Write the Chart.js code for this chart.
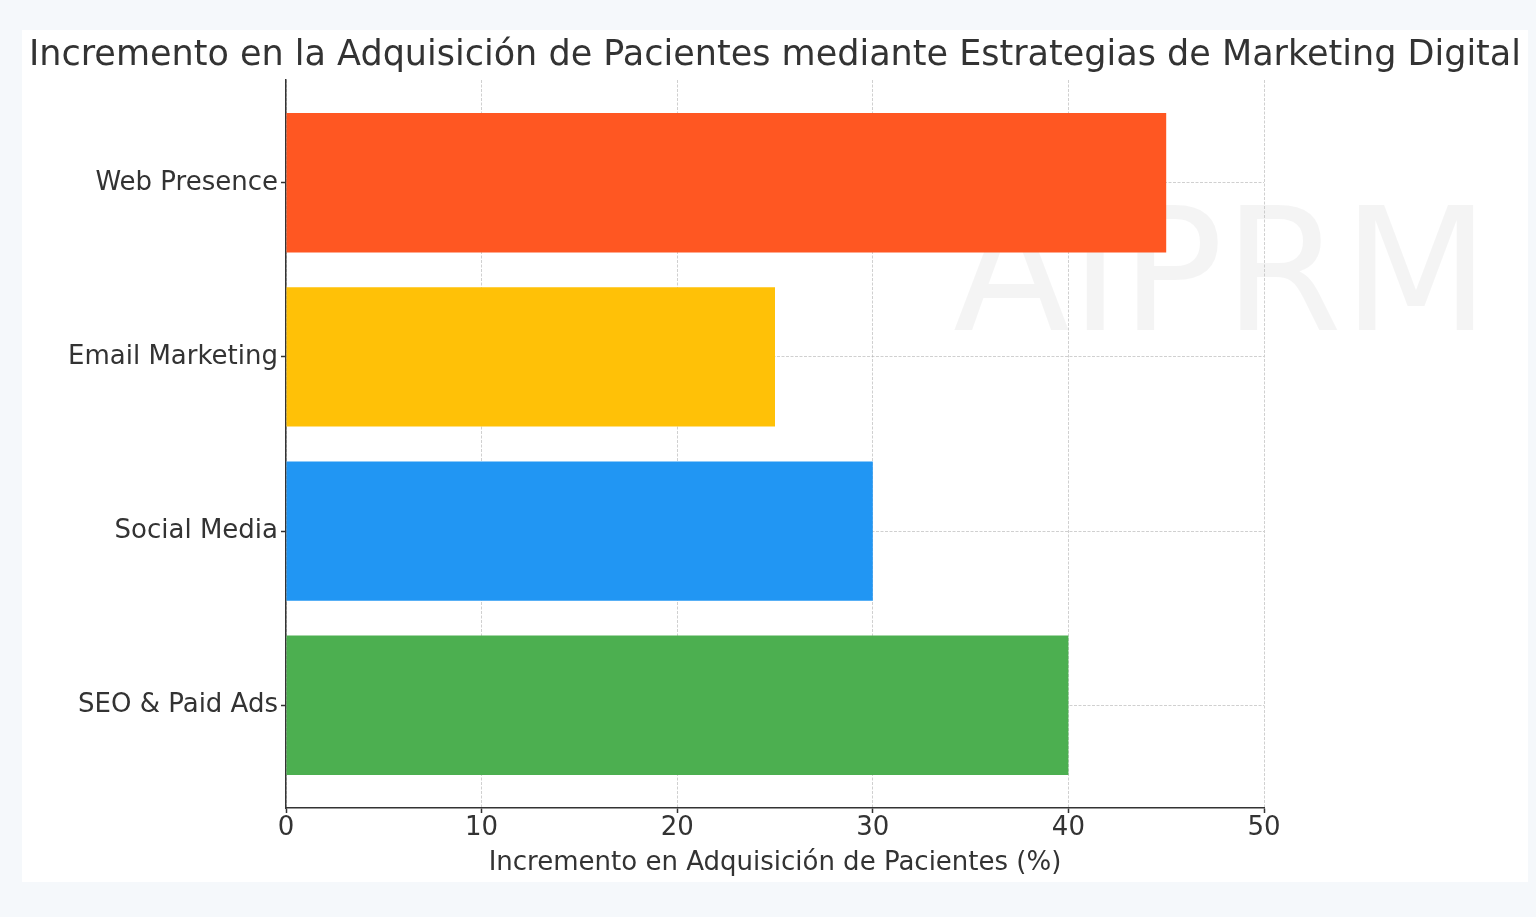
<!DOCTYPE html>
<html>
<head>
<meta charset="utf-8">
<script src="https://cdn.jsdelivr.net/npm/chart.js@4"></script>
<style>
  html, body { margin: 0; padding: 0; }
  body { background: #f5f8fb; width: 1536px; height: 917px; overflow: hidden; font-family: "DejaVu Sans", sans-serif; }
  #panel { position: absolute; left: 22px; top: 30px; width: 1506px; height: 852px; background: #fff; }
  #mark { position: absolute; left: 931px; top: 155px; font-size: 171px; line-height: 1; color: rgba(0,0,0,0.045); font-family: "DejaVu Sans"; }
  #chartBox { position: absolute; left: 0; top: 0; width: 1506px; height: 852px; }
</style>
</head>
<body>
<div id="panel">
  <div id="mark">AIPRM</div>
  <div id="chartBox"><canvas id="adqChart"></canvas></div>
</div>
<script>
const categories = ['Web Presence', 'Email Marketing', 'Social Media', 'SEO & Paid Ads'];
const increments = [45, 25, 30, 40];
const xTicks = [0, 10, 20, 30, 40, 50];
const barColors = ['#FF5722', '#FFC107', '#2196F3', '#4CAF50'];

const textColor = '#333';
const gridColor = 'rgba(176,176,176,0.6)';

const ctx = document.getElementById('adqChart').getContext('2d');
const adqChart = new Chart(ctx, {
  type: 'bar',
  data: {
    datasets: [{
      data: increments.map((v, i) => ({ x: v, y: i })),
      backgroundColor: barColors,
      barPercentage: 1,
      categoryPercentage: 0.8
    }]
  },
  options: {
    indexAxis: 'y',
    responsive: true,
    maintainAspectRatio: false,
    animation: false,
    layout: { padding: 0 },
    plugins: {
      legend: { display: false },
      tooltip: { enabled: false },
      title: {
        display: true,
        text: 'Incremento en la Adquisición de Pacientes mediante Estrategias de Marketing Digital',
        color: textColor,
        font: { family: 'DejaVu Sans', size: 35, weight: 'normal', lineHeight: 1.2 },
        padding: { top: 5, bottom: 3 }
      }
    },
    scales: {
      x: {
        type: 'linear',
        min: 0,
        max: 50,
        z: 1,
        afterBuildTicks: s => { s.ticks = xTicks.map(v => ({ value: v })); },
        afterFit: s => { s.height = 74; },
        ticks: { color: textColor, font: { family: 'DejaVu Sans', size: 26 }, padding: 0 },
        grid: { color: gridColor, lineWidth: 1, tickColor: textColor, tickLength: 5, tickWidth: 1.5 },
        border: { display: true, color: textColor, width: 1.5, dash: [3, 1.5] },
        title: {
          display: true,
          text: 'Incremento en Adquisición de Pacientes (%)',
          color: textColor,
          font: { family: 'DejaVu Sans', size: 26, lineHeight: 1.2 },
          padding: { top: 0, bottom: 3 }
        }
      },
      y: {
        type: 'linear',
        min: -0.59,
        max: 3.59,
        reverse: true,
        offset: false,
        z: 1,
        afterBuildTicks: s => { s.ticks = categories.map((c, i) => ({ value: i })); },
        afterFit: s => { s.width = 264; },
        ticks: {
          color: textColor,
          font: { family: 'DejaVu Sans', size: 26 },
          padding: 3,
          autoSkip: false,
          callback: v => categories[v]
        },
        grid: { offset: false, color: gridColor, lineWidth: 1, tickColor: textColor, tickLength: 5, tickWidth: 1.5 },
        border: { display: true, color: textColor, width: 1.5, dash: [3, 1.5] }
      },
      // empty right-hand spacer so the plot ends at 50 while the title stays centred
      spacer: {
        type: 'linear',
        position: 'right',
        offset: false,
        afterFit: s => { s.width = 264; },
        ticks: { display: false },
        grid: { display: false, drawTicks: false },
        border: { display: false }
      }
    }
  }
});
</script>
</body>
</html>
